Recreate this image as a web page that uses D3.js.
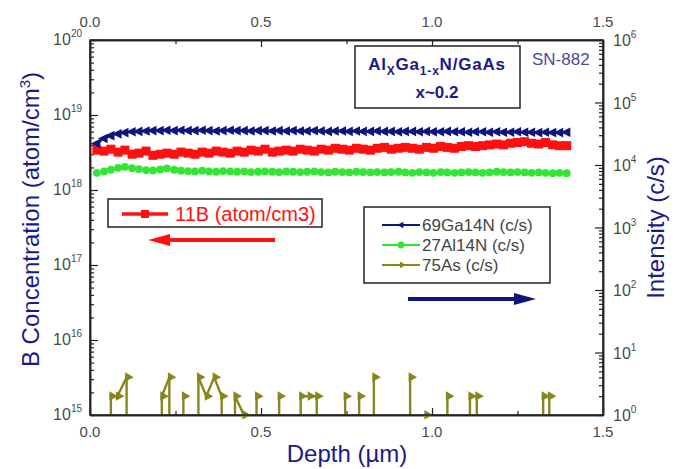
<!DOCTYPE html>
<html lang="en">
<head>
<meta charset="utf-8">
<title>SIMS depth profile SN-882</title>
<script src="https://cdn.jsdelivr.net/npm/d3@7"></script>
<style>
    body { margin: 0; background: #fff; }
    svg { display: block; font-family: Arial, "Liberation Sans", sans-serif; }
</style>
</head>
<body>
<div id="chart"></div>
<script>
    // depth grid (um) shared by the B, Ga and Al profiles
    var depth = [0.020,0.041,0.061,0.082,0.102,0.123,0.143,0.164,0.184,0.205,
                 0.225,0.246,0.266,0.287,0.307,0.328,0.348,0.369,0.389,0.410,
                 0.430,0.451,0.471,0.492,0.512,0.533,0.553,0.574,0.594,0.615,
                 0.635,0.656,0.676,0.697,0.717,0.738,0.758,0.779,0.799,0.820,
                 0.840,0.861,0.881,0.902,0.922,0.943,0.963,0.984,1.004,1.025,
                 1.045,1.066,1.086,1.107,1.127,1.148,1.168,1.189,1.209,1.230,
                 1.250,1.271,1.291,1.312,1.332,1.353,1.373,1.394];

    // 11B concentration, units of 1e18 atom/cm3 (left axis)
    var boron = [3.4,3.3,3.5,3.2,3.4,3.0,3.1,3.3,2.9,3.0,
                 3.1,3.0,3.2,3.1,3.0,3.2,3.1,3.3,3.2,3.1,
                 3.3,3.2,3.4,3.3,3.5,3.2,3.3,3.4,3.3,3.5,
                 3.4,3.3,3.5,3.4,3.6,3.5,3.4,3.6,3.5,3.4,
                 3.6,3.7,3.5,3.6,3.7,3.6,3.5,3.7,3.6,3.8,
                 3.7,3.6,3.8,3.9,3.8,3.9,4.0,4.1,4.0,4.2,
                 4.3,4.4,4.2,4.1,4.3,4.0,3.9,3.9];

    // 69Ga14N intensity, c/s (right axis)
    var ga = [22000,26500,29500,31500,33000,34000,34500,35000,35500,35500,
              36000,35500,36000,35500,35500,36000,35500,35000,35500,36000,
              35500,35500,35000,35500,35500,35000,35500,35000,35500,35000,
              35000,35500,35000,34500,35000,35000,34500,35000,34500,34500,
              35000,34500,34500,34000,34500,34500,34000,34500,34000,34000,
              34500,34000,34000,33500,34000,34000,33500,34000,33500,33500,
              34000,33500,33500,33000,33500,33000,33000,33500];

    // 27Al14N intensity, c/s (right axis)
    var al = [7500,7900,8400,9000,9300,8900,8600,8300,8200,8500,
              8800,8400,8100,8000,7900,8100,7900,7800,8000,7900,
              7800,7900,7700,7800,7900,7800,7700,7900,7800,7700,
              7800,7900,7700,7600,7800,7700,7600,7800,7700,7600,
              7700,7600,7700,7800,7600,7500,7700,7600,7500,7700,
              7600,7500,7600,7700,7600,7500,7600,7800,7700,7600,
              7700,7600,7500,7600,7500,7400,7500,7400];

    // 75As counts near the noise floor (0 = no count, not drawn on log axis)
    var asDepth = [0.041,0.061,0.080,0.107,0.127,0.190,0.210,0.232,0.252,0.273,
                   0.293,0.317,0.340,0.363,0.385,0.405,0.424,0.450,0.470,0.487,
                   0.507,0.533,0.553,0.573,0.596,0.616,0.641,0.663,0.683,0.726,
                   0.746,0.766,0.787,0.807,0.830,0.850,0.916,0.936,0.956,0.982,
                   1.002,1.025,1.045,1.065,1.091,1.111,1.131,1.151,1.305,1.325,
                   1.343,1.363];
    var asCounts = [0,2,2,4,0,0,2,4,0,2,
                    0,4,2,4,2,0,2,1,0,2,
                    0,0,2,0,0,2,2,2,0,0,
                    2,0,2,0,4,0,0,4,0,1,
                    0,0,2,0,0,2,2,0,0,2,
                    2,0];

    var xTicks = [0, 0.5, 1.0, 1.5];
    var xTickLabels = ["0.0", "0.5", "1.0", "1.5"];
    var xMinor = [0.25, 0.75, 1.25];
    var leftExp = [15, 16, 17, 18, 19, 20];
    var rightExp = [0, 1, 2, 3, 4, 5, 6];

    var width = 686, height = 469;
    var pL = 90, pR = 603, pT = 40, pB = 415;

    var navy = "#0d1580", red = "#ff1010", green = "#33e633", olive = "#86861c";
    var titleBlue = "#1a1a8a", tickGrey = "#4a4a4a";

    var x = d3.scaleLinear().domain([0, 1.5]).range([pL, pR]);
    var yL = d3.scaleLog().domain([1e15, 1e20]).range([pB, pT]);
    var yR = d3.scaleLog().domain([1, 1e6]).range([pB, pT]);

    var svg = d3.select("#chart").append("svg")
        .attr("width", width)
        .attr("height", height)
        .style("background", "#fff");

    svg.append("defs").append("clipPath").attr("id", "plotclip")
        .append("rect")
        .attr("x", pL).attr("y", pT)
        .attr("width", pR - pL).attr("height", pB - pT);

    // minor ticks for a log axis, 2..9 in every decade
    function minorLog(e0, e1) {
        var out = [];
        for (var e = e0; e < e1; e++) {
            for (var k = 2; k < 10; k++) out.push(k * Math.pow(10, e));
        }
        return out;
    }

    function styleAxis(g) {
        g.selectAll("path").attr("stroke", "#222").attr("stroke-width", 1.5);
        g.selectAll("line").attr("stroke", "#222").attr("stroke-width", 1.2);
    }

    // ticks: all pointing into the plot
    svg.append("g").attr("transform", "translate(0," + pB + ")")
        .call(d3.axisBottom(x).tickValues(xTicks).tickSize(-7).tickSizeOuter(0).tickFormat(""))
        .call(styleAxis);
    svg.append("g").attr("transform", "translate(0," + pB + ")")
        .call(d3.axisBottom(x).tickValues(xMinor).tickSize(-4).tickSizeOuter(0).tickFormat(""))
        .call(styleAxis);
    svg.append("g").attr("transform", "translate(0," + pT + ")")
        .call(d3.axisTop(x).tickValues(xTicks).tickSize(-7).tickSizeOuter(0).tickFormat(""))
        .call(styleAxis);
    svg.append("g").attr("transform", "translate(0," + pT + ")")
        .call(d3.axisTop(x).tickValues(xMinor).tickSize(-4).tickSizeOuter(0).tickFormat(""))
        .call(styleAxis);

    svg.append("g").attr("transform", "translate(" + pL + ",0)")
        .call(d3.axisLeft(yL).tickValues(leftExp.map(function(e) { return Math.pow(10, e); }))
            .tickSize(-8).tickSizeOuter(0).tickFormat(""))
        .call(styleAxis);
    svg.append("g").attr("transform", "translate(" + pL + ",0)")
        .call(d3.axisLeft(yL).tickValues(minorLog(15, 20)).tickSize(-4).tickSizeOuter(0).tickFormat(""))
        .call(styleAxis);
    svg.append("g").attr("transform", "translate(" + pR + ",0)")
        .call(d3.axisRight(yR).tickValues(rightExp.map(function(e) { return Math.pow(10, e); }))
            .tickSize(-8).tickSizeOuter(0).tickFormat(""))
        .call(styleAxis);
    svg.append("g").attr("transform", "translate(" + pR + ",0)")
        .call(d3.axisRight(yR).tickValues(minorLog(0, 6)).tickSize(-4).tickSizeOuter(0).tickFormat(""))
        .call(styleAxis);

    // tick labels
    var tickFont = 15;
    xTicks.forEach(function(v, i) {
        svg.append("text").attr("x", x(v)).attr("y", pB + 22)
            .attr("text-anchor", "middle").attr("font-size", tickFont).attr("fill", tickGrey)
            .text(xTickLabels[i]);
        svg.append("text").attr("x", x(v)).attr("y", pT - 13)
            .attr("text-anchor", "middle").attr("font-size", tickFont).attr("fill", tickGrey)
            .text(xTickLabels[i]);
    });

    function powerLabel(px, py, exp, anchor) {
        var t = svg.append("text").attr("x", px).attr("y", py)
            .attr("text-anchor", anchor).attr("font-size", tickFont + 1).attr("fill", tickGrey);
        t.append("tspan").text("10");
        t.append("tspan").attr("font-size", 10).attr("dy", -8).text(exp);
        return t;
    }
    leftExp.forEach(function(e) {
        powerLabel(pL - 8, yL(Math.pow(10, e)) + 5, e, "end");
    });
    rightExp.forEach(function(e) {
        powerLabel(pR + 10, yR(Math.pow(10, e)) + 6, e, "start");
    });

    // axis titles
    var yt = svg.append("text")
        .attr("transform", "translate(39," + ((pT + pB) / 2 - 8) + ") rotate(-90)")
        .attr("text-anchor", "middle").attr("font-size", 24).attr("fill", titleBlue);
    yt.append("tspan").text("B Concentration (atom/cm");
    yt.append("tspan").attr("font-size", 15).attr("dy", -9).text("3");
    yt.append("tspan").attr("dy", 9).text(")");

    svg.append("text")
        .attr("transform", "translate(664," + ((pT + pB) / 2) + ") rotate(-90)")
        .attr("text-anchor", "middle").attr("font-size", 24).attr("fill", titleBlue)
        .text("Intensity (c/s)");

    svg.append("text").attr("x", 347).attr("y", 462)
        .attr("text-anchor", "middle").attr("font-size", 24).attr("fill", titleBlue)
        .text("Depth (\u00b5m)");

    // markers
    function triLeft(s) { return "M" + (-s) + ",0L" + (s * 0.6) + "," + (-s * 0.8) + "L" + (s * 0.6) + "," + (s * 0.8) + "Z"; }
    function flagRight(s) { return "M" + (s * 1.4) + ",0L" + (-s * 0.3) + "," + (-s) + "L" + (-s * 0.3) + "," + (s * 0.9) + "Z"; }

    var plot = svg.append("g").attr("clip-path", "url(#plotclip)");

    var rows = depth.map(function(d, i) {
        return { d: d, b: boron[i] * 1e18, ga: ga[i], al: al[i] };
    });

    // Al
    plot.append("path").datum(rows)
        .attr("fill", "none").attr("stroke", green).attr("stroke-width", 1.8)
        .attr("d", d3.line().x(function(r) { return x(r.d); }).y(function(r) { return yR(r.al); }));
    plot.selectAll("circle.al").data(rows).enter().append("circle")
        .attr("class", "al")
        .attr("cx", function(r) { return x(r.d); })
        .attr("cy", function(r) { return yR(r.al); })
        .attr("r", 3.9).attr("fill", green);

    // B
    plot.append("path").datum(rows)
        .attr("fill", "none").attr("stroke", red).attr("stroke-width", 3.5)
        .attr("d", d3.line().x(function(r) { return x(r.d); }).y(function(r) { return yL(r.b); }));
    plot.selectAll("rect.b").data(rows).enter().append("rect")
        .attr("class", "b")
        .attr("x", function(r) { return x(r.d) - 4.5; })
        .attr("y", function(r) { return yL(r.b) - 4.5; })
        .attr("width", 9).attr("height", 9).attr("fill", red);

    // Ga
    plot.append("path").datum(rows)
        .attr("fill", "none").attr("stroke", navy).attr("stroke-width", 2)
        .attr("d", d3.line().x(function(r) { return x(r.d); }).y(function(r) { return yR(r.ga); }));
    plot.selectAll("path.ga").data(rows).enter().append("path")
        .attr("class", "ga")
        .attr("transform", function(r) { return "translate(" + x(r.d) + "," + yR(r.ga) + ")"; })
        .attr("d", triLeft(6)).attr("fill", navy);

    // As: connect neighbouring non-zero points, drop to the floor next to zeros
    var asG = svg.append("g");
    for (var i = 0; i < asDepth.length; i++) {
        var c = asCounts[i];
        if (c <= 0) continue;
        var px = x(asDepth[i]), py = yR(c);
        var prev = i > 0 ? asCounts[i - 1] : 0;
        var next = i < asCounts.length - 1 ? asCounts[i + 1] : 0;
        if (next > 0) {
            asG.append("line").attr("x1", px).attr("y1", py)
                .attr("x2", x(asDepth[i + 1])).attr("y2", yR(next))
                .attr("stroke", olive).attr("stroke-width", 2.4);
        }
        if (prev <= 0 || next <= 0) {
            asG.append("line").attr("x1", px).attr("y1", py)
                .attr("x2", px).attr("y2", pB)
                .attr("stroke", olive).attr("stroke-width", 2.4);
        }
    }
    asDepth.forEach(function(d, i) {
        if (asCounts[i] <= 0) return;
        asG.append("path")
            .attr("transform", "translate(" + x(d) + "," + yR(asCounts[i]) + ")")
            .attr("d", flagRight(5)).attr("fill", olive);
    });

    // redraw frame on top
    svg.append("rect").attr("x", pL).attr("y", pT)
        .attr("width", pR - pL).attr("height", pB - pT)
        .attr("fill", "none").attr("stroke", "#222").attr("stroke-width", 1.5);

    // sample label box
    svg.append("rect").attr("x", 355).attr("y", 46).attr("width", 165).attr("height", 62)
        .attr("fill", "#fff").attr("stroke", "#222").attr("stroke-width", 1.5);
    var t1 = svg.append("text").attr("x", 437).attr("y", 70)
        .attr("text-anchor", "middle").attr("font-size", 17).attr("font-weight", "bold")
        .attr("letter-spacing", 0.8).attr("fill", titleBlue);
    t1.append("tspan").text("Al");
    t1.append("tspan").attr("font-size", 12).attr("dy", 5).text("X");
    t1.append("tspan").attr("dy", -5).text("Ga");
    t1.append("tspan").attr("font-size", 12).attr("dy", 5).text("1-x");
    t1.append("tspan").attr("dy", -5).text("N/GaAs");
    svg.append("text").attr("x", 437).attr("y", 98)
        .attr("text-anchor", "middle").attr("font-size", 17).attr("font-weight", "bold")
        .attr("fill", titleBlue).text("x~0.2");

    svg.append("text").attr("x", 532).attr("y", 65)
        .attr("font-size", 17).attr("fill", "#4a4aa0").text("SN-882");

    // left legend (B)
    svg.append("rect").attr("x", 108).attr("y", 199).attr("width", 214).attr("height", 28)
        .attr("fill", "#fff").attr("stroke", "#222").attr("stroke-width", 1.5);
    svg.append("line").attr("x1", 122).attr("x2", 168).attr("y1", 214).attr("y2", 214)
        .attr("stroke", red).attr("stroke-width", 3.5);
    svg.append("rect").attr("x", 141).attr("y", 210).attr("width", 8).attr("height", 8).attr("fill", red);
    svg.append("text").attr("x", 175).attr("y", 221)
        .attr("font-size", 20).attr("fill", red).text("11B (atom/cm3)");

    // right legend (intensities)
    var legendNames = ["69Ga14N (c/s)", "27Al14N (c/s)", "75As (c/s)"];
    var legendColors = [navy, green, olive];
    svg.append("rect").attr("x", 364).attr("y", 207).attr("width", 186).attr("height", 76)
        .attr("fill", "#fff").attr("stroke", "#222").attr("stroke-width", 1.5);
    legendNames.forEach(function(name, i) {
        var ly = 225 + i * 20;
        svg.append("line").attr("x1", 382).attr("x2", 420).attr("y1", ly).attr("y2", ly)
            .attr("stroke", legendColors[i]).attr("stroke-width", 1.8);
        var m;
        if (i === 0) m = svg.append("path").attr("d", triLeft(4));
        else if (i === 1) m = svg.append("circle").attr("r", 3.4);
        else m = svg.append("path").attr("d", flagRight(3.5));
        m.attr("transform", "translate(401," + ly + ")").attr("fill", legendColors[i]);
        svg.append("text").attr("x", 422).attr("y", ly + 6)
            .attr("font-size", 17).attr("fill", "#444").text(name);
    });

    // direction arrows
    function arrow(x1, x2, y, color) {
        var dir = x2 > x1 ? 1 : -1;
        svg.append("line").attr("x1", x1).attr("x2", x2 - dir * 18).attr("y1", y).attr("y2", y)
            .attr("stroke", color).attr("stroke-width", 4);
        svg.append("path")
            .attr("d", "M" + x2 + "," + y + "L" + (x2 - dir * 22) + "," + (y - 6) +
                "L" + (x2 - dir * 22) + "," + (y + 6) + "Z")
            .attr("fill", color);
    }
    arrow(275, 148, 240, red);
    arrow(408, 536, 299, navy);
</script>
</body>
</html>
